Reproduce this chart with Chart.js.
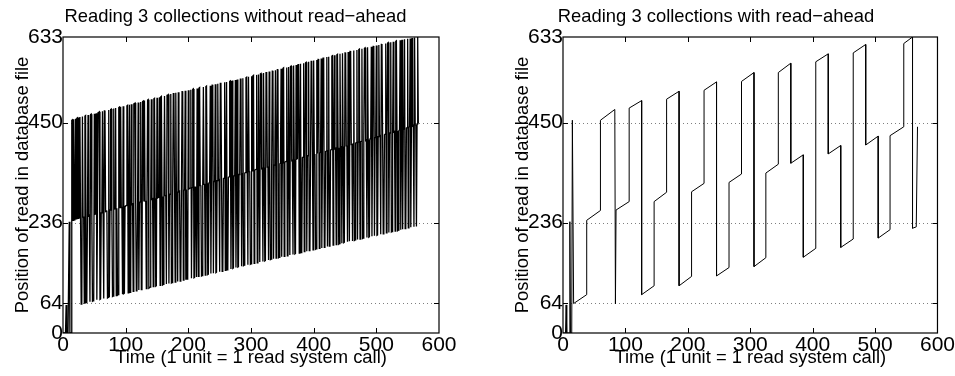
<!DOCTYPE html>
<html>
<head>
<meta charset="utf-8">
<script src="https://cdn.jsdelivr.net/npm/chart.js@4.4.1/dist/chart.umd.min.js"></script>
<style>
  body { margin: 0; background: #fff; }
  canvas { position: absolute; top: 0; }
</style>
</head>
<body>
<canvas id="noAheadChart" width="480" height="376" style="left:0px"></canvas>
<canvas id="aheadChart" width="455" height="376" style="left:500px"></canvas>
<script>
// tick values shared by both plots
const xTicks = [0, 100, 200, 300, 400, 500, 600];
const yTicks = [0, 64, 236, 450, 633];

const leftTitle = 'Reading 3 collections without read\u2212ahead';
const rightTitle = 'Reading 3 collections with read\u2212ahead';
const xLabel = 'Time (1 unit = 1 read system call)';
const yLabel = 'Position of read in database file';

// without read-ahead: block read at each system call (index = time)
const noAheadPos = [
  0,0,0,0,0,60,0,0,0,0,238,0,0,0,455,
  456,241,457,242,243,458,244,459,460,245,461,246,462,247,
  62,63,463,248,249,64,464,465,65,66,250,466,251,252,67,467,468,253,68,69,70,469,254,255,470,71,256,471,472,473,
  72,73,257,258,474,259,74,475,476,260,261,262,75,76,477,77,263,478,479,264,78,79,480,265,266,481,80,267,81,82,
  482,483,268,484,269,270,83,485,84,85,271,272,273,486,487,86,274,488,87,88,489,275,276,89,490,491,492,277,90,91,278,493,
  92,279,280,494,93,94,495,496,281,497,282,283,95,284,498,499,96,97,98,285,500,286,287,99,501,502,288,100,101,503,
  289,290,291,504,102,505,506,292,103,104,293,507,294,295,105,508,509,510,106,296,297,511,107,108,298,512,513,299,109,514,
  300,301,110,515,302,303,111,112,304,516,517,113,305,306,518,114,307,115,116,519,308,309,310,520,117,311,521,522,118,119,
  312,313,120,523,314,121,524,525,315,316,122,123,317,526,318,319,124,527,528,320,125,126,321,322,529,127,323,530,531,128,
  324,325,532,129,130,326,533,327,328,131,534,535,329,132,133,330,331,536,134,332,537,135,136,333,334,538,539,137,335,540,
  138,139,336,337,541,140,338,542,141,142,339,340,
  543,544,143,341,545,144,145,342,343,546,547,344,146,548,345,346,147,148,549,347,550,551,149,348,349,350,552,150,151,553,
  351,152,554,555,352,353,153,556,354,154,155,557,558,355,356,156,559,357,157,158,358,560,561,159,359,360,562,160,361,563,
  564,161,162,362,363,565,163,364,566,567,164,365,366,367,568,165,166,569,368,167,570,571,369,370,168,572,371,169,170,573,
  372,373,574,575,171,374,576,172,173,375,376,577,174,377,578,579,175,378,379,580,176,177,380,581,582,381,178,583,382,383,
  179,180,584,384,585,586,181,385,386,587,182,387,588,589,183,184,388,389,590,185,390,591,186,187,391,392,592,593,188,393,
  594,394,395,189,595,596,396,190,191,597,397,398,192,598,399,193,194,599,600,400,401,195,601,402,196,602,603,403,404,197,
  405,604,198,199,406,407,605,200,408,606,607,
  201,409,410,608,202,203,411,609,610,412,413,204,611,414,205,206,415,416,612,207,417,613,614,208,418,419,615,209,210,420,
  616,421,422,211,617,618,423,212,213,424,425,619,214,426,620,621,215,427,428,622,216,217,429,623,430,431,218,624,625,432,
  219,220,433,434,626,221,435,627,222,436,437,628,223,224,438,439,629,225,440,441,630,226,442,631,443,444,227,632,445,446,
  228,447,633,448
];

// with read-ahead: corners of the traced path (time, block)
const aheadTime = [0, 4, 5, 6, 10, 11, 12, 14, 15, 17,
  38, 38, 60, 60, 83, 84, 85,
  106, 106, 126, 126, 146, 146, 166, 166, 186, 186, 206, 206, 226, 226, 246, 246,
  266, 266, 286, 286, 306, 306, 325, 325, 345, 345, 365, 365, 385, 385, 405, 405,
  425, 425, 445, 445, 465, 465, 485, 485, 505, 505, 524, 524, 546, 546, 560, 560,
  566, 567, 568];
const aheadPos = [0, 0, 60, 0, 0, 238, 0, 0, 455, 63,
  82, 241, 262, 455, 478, 62, 263,
  281, 481, 497, 82, 101, 281, 301, 500, 517, 101, 121, 302, 320, 519, 537, 122,
  140, 322, 340, 538, 557, 142, 161, 342, 361, 557, 577, 363, 381, 162, 181, 580,
  597, 383, 401, 183, 201, 599, 617, 402, 421, 203, 221, 422, 441, 619, 633, 224,
  227, 227, 441];

const frame = {
  id: 'frame',
  beforeDatasetsDraw(chart) {
    const { ctx, chartArea: a, scales: { y } } = chart;
    ctx.save();
    ctx.strokeStyle = 'rgba(0,0,0,0.5)';
    ctx.lineWidth = 1;
    ctx.setLineDash([1, 3]);
    yTicks.slice(1, -1).forEach(v => {
      const py = Math.round(y.getPixelForValue(v)) + 0.5;
      ctx.beginPath();
      ctx.moveTo(a.left, py);
      ctx.lineTo(a.right, py);
      ctx.stroke();
    });
    ctx.restore();
  },
  afterDraw(chart, args, opts) {
    const { ctx, chartArea: a, scales: { x, y } } = chart;
    ctx.save();
    ctx.strokeStyle = '#000';
    ctx.lineWidth = 1.2;
    ctx.strokeRect(a.left, a.top, a.right - a.left, a.bottom - a.top);
    ctx.lineWidth = 1;
    ctx.beginPath();
    xTicks.slice(1, -1).forEach(v => {
      const px = Math.round(x.getPixelForValue(v)) + 0.5;
      ctx.moveTo(px, a.bottom); ctx.lineTo(px, a.bottom - 5);
      ctx.moveTo(px, a.top); ctx.lineTo(px, a.top + 5);
    });
    yTicks.slice(1, -1).forEach(v => {
      const py = Math.round(y.getPixelForValue(v)) + 0.5;
      ctx.moveTo(a.left, py); ctx.lineTo(a.left + 5, py);
      ctx.moveTo(a.right, py); ctx.lineTo(a.right - 5, py);
    });
    ctx.stroke();

    ctx.fillStyle = '#000';
    ctx.font = '18.4px "Liberation Sans", Arial, sans-serif';
    ctx.textAlign = 'center';
    ctx.textBaseline = 'alphabetic';
    ctx.fillText(opts.title, opts.titleX, 22);
    ctx.fillText(xLabel, (a.left + a.right) / 2, 363);
    ctx.translate(28, (a.top + a.bottom) / 2);
    ctx.rotate(-Math.PI / 2);
    ctx.fillText(yLabel, 0, 0);
    ctx.restore();
  }
};

function makeChart(id, points, title, titleX, padRight, lineWidth) {
  return new Chart(document.getElementById(id), {
    type: 'scatter',
    data: {
      datasets: [{
        data: points,
        showLine: true,
        borderColor: '#000',
        borderWidth: lineWidth,
        pointRadius: 0,
        tension: 0
      }]
    },
    options: {
      responsive: false,
      animation: false,
      layout: { padding: { top: 37, right: padRight, left: 0, bottom: 0 } },
      plugins: {
        legend: { display: false },
        tooltip: { enabled: false },
        frame: { title: title, titleX: titleX }
      },
      scales: {
        x: {
          type: 'linear',
          min: 0,
          max: 600,
          afterBuildTicks: s => { s.ticks = xTicks.map(v => ({ value: v })); },
          afterFit: s => { s.height = 43; },
          grid: { display: false, drawTicks: false },
          border: { display: false },
          ticks: {
            color: '#000',
            padding: 0,
            maxRotation: 0,
            autoSkip: false,
            font: { family: 'Liberation Sans', size: 21 }
          }
        },
        y: {
          type: 'linear',
          min: 0,
          max: 633,
          afterBuildTicks: s => { s.ticks = yTicks.map(v => ({ value: v })); },
          afterFit: s => { s.width = 63; },
          grid: { display: false, drawTicks: false },
          border: { display: false },
          ticks: {
            color: '#000',
            padding: 0,
            autoSkip: false,
            font: { family: 'Liberation Sans', size: 21 }
          }
        }
      }
    },
    plugins: [frame]
  });
}

const leftPoints = noAheadPos.map((p, i) => ({ x: i, y: p }));
const rightPoints = aheadTime.map((t, i) => ({ x: t, y: aheadPos[i] }));

makeChart('noAheadChart', leftPoints, leftTitle, 235.5, 41, 1.3);
makeChart('aheadChart', rightPoints, rightTitle, 216, 15, 1);
</script>
</body>
</html>
